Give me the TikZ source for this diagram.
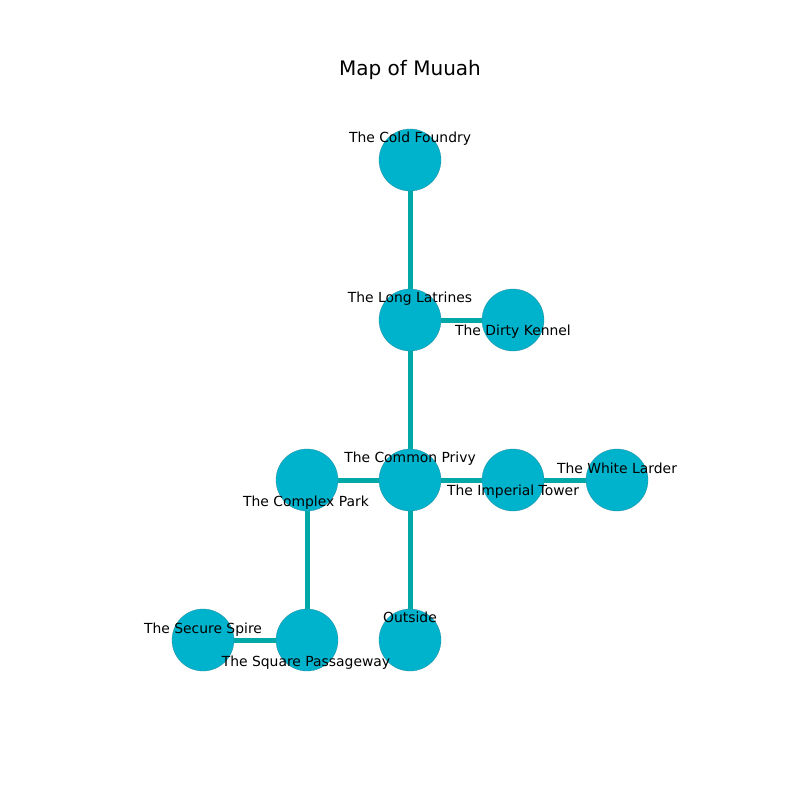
\documentclass[tikz,border=0pt]{standalone}
\usepackage{fontspec}
\setmainfont{DejaVu Sans}
\definecolor{nodefill}{RGB}{0,179,204}
\definecolor{nodeline}{RGB}{40,140,160}
\definecolor{edgecol}{RGB}{0,168,168}
\begin{document}
\begin{tikzpicture}[x=1pt,y=-1pt,
  room/.style={circle,fill=nodefill,draw=nodeline,line width=0.3pt,minimum size=62pt,inner sep=0pt},
  link/.style={draw=edgecol,line width=5pt},
  lab/.style={font=\fontsize{13.9}{14}\selectfont,inner sep=0pt,text height=10pt,text depth=3pt}]
\useasboundingbox (0,0) rectangle (800,800);
\node[font=\fontsize{20}{22}\selectfont,inner sep=0pt,text height=14pt,text depth=4pt] (title) at (410,70) {Map of Muuah};
% nodes
\node[room] (cf) at (410,160) {};
\node[room] (ll) at (410,320) {};
\node[room] (dk) at (513,320) {};
\node[room] (cp) at (410,480) {};
\node[room] (pk) at (307,480) {};
\node[room] (it) at (513,480) {};
\node[room] (wl) at (617,480) {};
\node[room] (out) at (410,640) {};
\node[room] (sp) at (307,640) {};
\node[room] (ss) at (203,640) {};
% edges
\draw[link] (cf) -- (ll);
\draw[link] (ll) -- (dk);
\draw[link] (ll) -- (cp);
\draw[link] (cp) -- (pk);
\draw[link] (cp) -- (it);
\draw[link] (it) -- (wl);
\draw[link] (cp) -- (out);
\draw[link] (pk) -- (sp);
\draw[link] (sp) -- (ss);
% labels
\node[lab] (lcf) at (410,139) {The Cold Foundry};
\node[lab] (lll) at (410,299) {The Long Latrines};
\node[lab] (ldk) at (513,332) {The Dirty Kennel};
\node[lab] (lcp) at (410,459) {The Common Privy};
\node[lab] (lpk) at (306,503) {The Complex Park};
\node[lab] (lit) at (513,492) {The Imperial Tower};
\node[lab] (lwl) at (617,470) {The White Larder};
\node[lab] (lout) at (410,619) {Outside};
\node[lab] (lsp) at (306,663) {The Square Passageway};
\node[lab] (lss) at (203,630) {The Secure Spire};
\end{tikzpicture}
\end{document}
